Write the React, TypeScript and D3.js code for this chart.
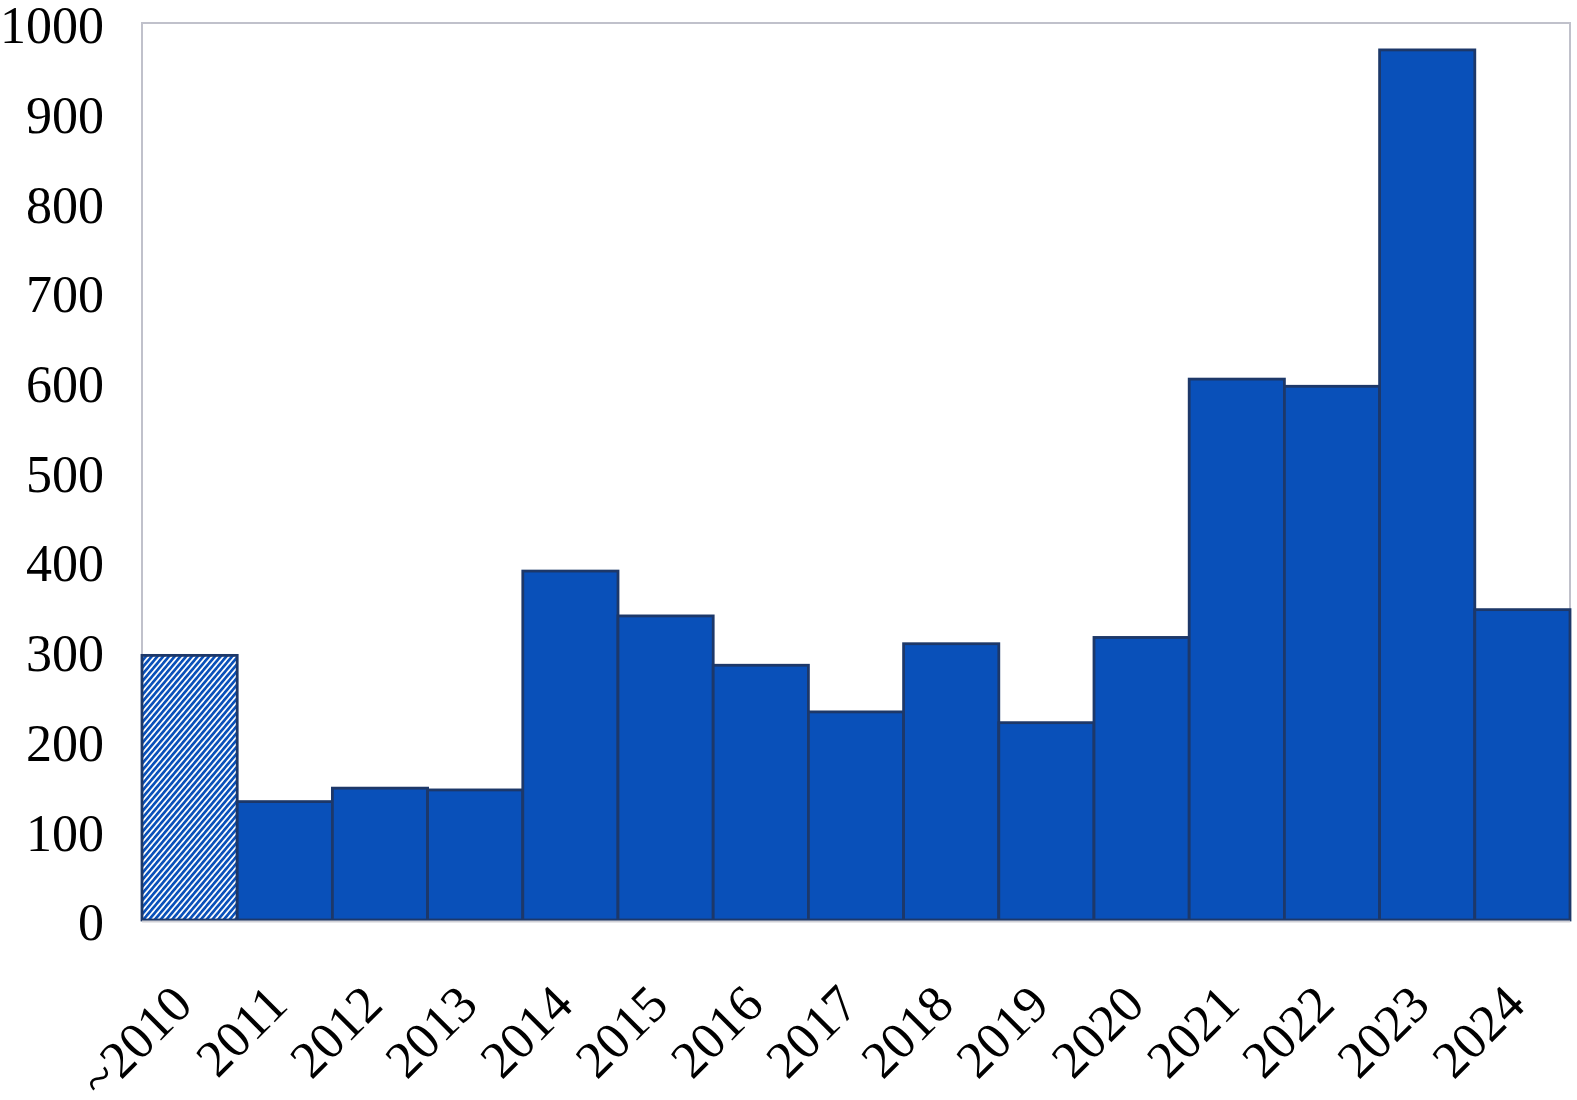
import React from "react";
import * as d3 from "d3";

const categories: string[] = ["~2010", "2011", "2012", "2013", "2014", "2015", "2016", "2017", "2018", "2019", "2020", "2021", "2022", "2023", "2024"];
const values: number[] = [295, 132, 147, 145, 389, 339, 284, 232, 308, 220, 315, 603, 595, 970, 346];
const hatchedCategories: string[] = ["~2010"];
const yTicks: number[] = [0, 100, 200, 300, 400, 500, 600, 700, 800, 900, 1000];

const W = 1577;
const H = 1100;
const margin = { left: 142, right: 7, top: 23, bottom: 180 };
const FONT = "'Liberation Serif', 'Times New Roman', serif";

export default function App() {
  const x = d3
    .scaleBand<string>()
    .domain(categories)
    .range([margin.left, W - margin.right])
    .padding(0);
  const y = d3.scaleLinear().domain([0, 1000]).range([H - margin.bottom, margin.top]);

  const fill = "#0950b9";
  const stroke = "#1d3869";
  const x0 = margin.left;
  const x1 = W - margin.right;
  const yTop = y(1000);
  const yBot = y(0);

  return (
    <svg width={W} height={H} style={{ position: "absolute", left: 0, top: 0, background: "#fff" }}>
      <defs>
        <pattern id="hatch" patternUnits="userSpaceOnUse" width={4.4} height={4.4} patternTransform="rotate(40)">
          <rect x={0} y={0} width={4.4} height={4.4} fill="#ffffff" />
          <rect x={0} y={0} width={2.7} height={4.4} fill={fill} />
        </pattern>
      </defs>
      <rect x={0} y={0} width={W} height={H} fill="#fff" />
      {/* plot border */}
      <rect x={x0} y={yTop} width={x1 - x0} height={yBot - yTop} fill="none" stroke="#c0c1cb" strokeWidth={2} />
      {categories.map((c, i) => (
        <rect
          key={c}
          x={x(c)!}
          y={y(values[i])}
          width={x.bandwidth()}
          height={yBot - y(values[i])}
          fill={hatchedCategories.includes(c) ? "url(#hatch)" : fill}
          stroke={stroke}
          strokeWidth={2.8}
        />
      ))}
      <line x1={x0} x2={x1} y1={yBot + 1.5} y2={yBot + 1.5} stroke="#d0d0d6" strokeWidth={2} />
      {yTicks.map((t) => (
        <text
          key={t}
          x={104}
          y={y(t) + 2}
          dy="0.35em"
          textAnchor="end"
          fontFamily={FONT}
          fontSize={52}
          fill="#000"
        >
          {t}
        </text>
      ))}
      {categories.map((c) => {
        const cx = x(c)! + x.bandwidth() / 2 + 5;
        const cy = yBot + 87;
        return (
          <text
            key={c}
            x={cx}
            y={cy}
            transform={`rotate(-45 ${cx} ${cy})`}
            textAnchor="end"
            fontFamily={FONT}
            fontSize={52}
            fill="#000"
          >
            {c}
          </text>
        );
      })}
    </svg>
  );
}
